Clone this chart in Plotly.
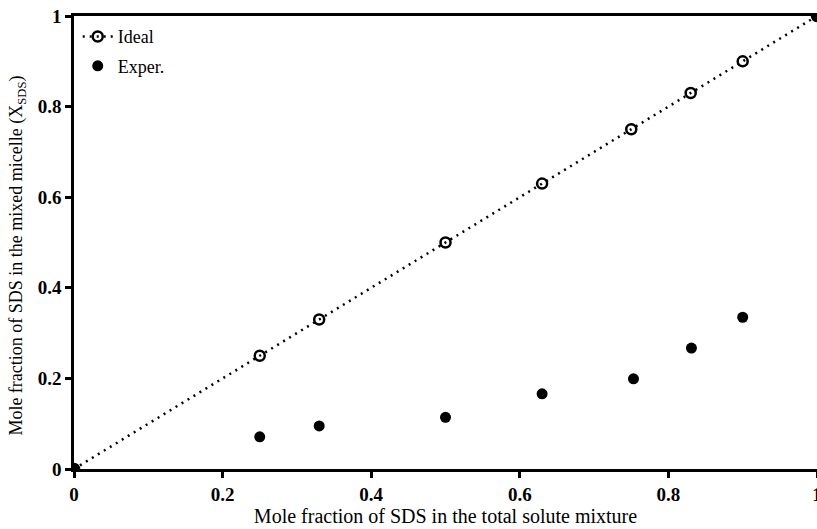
import plotly.graph_objects as go

x_ideal = [0, 0.25, 0.33, 0.5, 0.63, 0.75, 0.83, 0.9, 1.0]
y_ideal = [0, 0.25, 0.33, 0.5, 0.63, 0.75, 0.83, 0.9, 1.0]
x_exper = [0, 0.25, 0.33, 0.5, 0.63, 0.753, 0.831, 0.9, 1.0]
y_exper = [0, 0.071, 0.095, 0.114, 0.166, 0.199, 0.267, 0.335, 1.0]

x_ticks = [0, 0.2, 0.4, 0.6, 0.8, 1]
x_ticktext = ["0", "0.2", "0.4", "0.6", "0.8", "1"]
y_ticks = [0, 0.2, 0.4, 0.6, 0.8, 1]
y_ticktext = ["0", "0.2", "0.4", "0.6", "0.8", "1"]

FONT = "Liberation Serif, Times New Roman, serif"

fig = go.Figure()
fig.add_trace(go.Scatter(
    x=x_ideal, y=y_ideal, name="Ideal", mode="lines+markers",
    legendgroup="a",
    line=dict(color="black", width=2.5, dash="2px,5px"),
    marker=dict(symbol="circle-open", size=10, color="black", line=dict(width=2.5)),
))
fig.add_trace(go.Scatter(
    x=x_exper, y=y_exper, name="Exper.", mode="markers",
    legendgroup="b",
    marker=dict(symbol="circle", size=11, color="black"),
))

fig.update_layout(
    width=817, height=529,
    margin=dict(l=74, r=0, t=16, b=60, autoexpand=False),
    plot_bgcolor="white", paper_bgcolor="white",
    font=dict(family=FONT, color="black", size=16),
    showlegend=True,
    legend=dict(x=0.005, y=0.995, xanchor="left", yanchor="top",
                bgcolor="rgba(0,0,0,0)", font=dict(size=18, family=FONT),
                traceorder="grouped", tracegroupgap=3, itemwidth=30),
    annotations=[dict(
        text="Mole fraction of SDS in the mixed micelle (X<sub>SDS</sub>)",
        xref="paper", yref="paper", x=-0.076, y=0.47, xanchor="center", yanchor="middle",
        textangle=-90, showarrow=False, font=dict(size=18, family=FONT),
    )],
)
fig.update_xaxes(
    range=[0, 1], tickvals=x_ticks, ticktext=x_ticktext,
    showgrid=False, zeroline=False,
    showline=True, linecolor="black", linewidth=2.5, mirror=True,
    ticks="outside", ticklen=6, tickwidth=2.5, tickcolor="black",
    ticklabeloverflow="allow",
    tickfont=dict(size=19, family=FONT, weight="bold"),
    title=dict(text="Mole fraction of SDS in the total solute mixture",
               font=dict(size=20, family=FONT), standoff=6),
)
fig.update_yaxes(
    range=[0, 1], tickvals=y_ticks, ticktext=y_ticktext,
    showgrid=False, zeroline=False,
    showline=True, linecolor="black", linewidth=2.5,
    ticks="outside", ticklen=6, tickwidth=2.5, tickcolor="black",
    tickfont=dict(size=19, family=FONT, weight="bold"),
)

fig.write_html("out.html")
